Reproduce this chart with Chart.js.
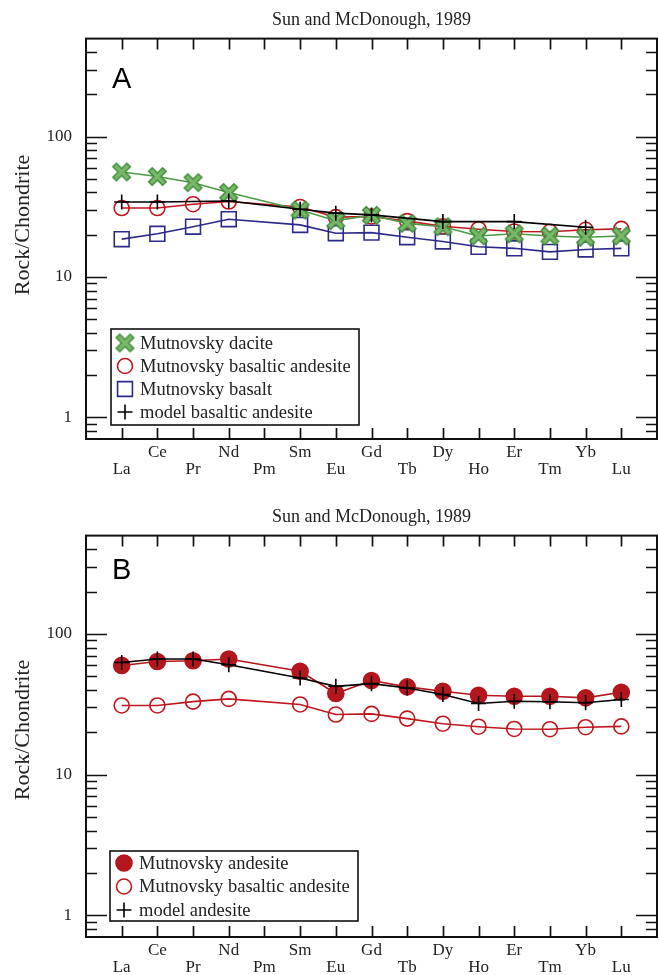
<!DOCTYPE html>
<html>
<head>
<meta charset="utf-8">
<title>Mutnovsky REE patterns</title>
<script src="https://cdn.jsdelivr.net/npm/chart.js@4.4.1/dist/chart.umd.min.js"></script>
<style>
  body { margin: 0; background: #fff; }
  .panel { position: absolute; left: 0; width: 659px; }
  #wrapA { top: 0; height: 497px; }
  #wrapB { top: 497px; height: 478px; }
</style>
</head>
<body>
<div class="panel" id="wrapA"><canvas id="chartA"></canvas></div>
<div class="panel" id="wrapB"><canvas id="chartB"></canvas></div>

<script>
// element order on the x axis (Pm has no data)
const elements = ['La', 'Ce', 'Pr', 'Nd', 'Pm', 'Sm', 'Eu', 'Gd', 'Tb', 'Dy', 'Ho', 'Er', 'Tm', 'Yb', 'Lu'];

// panel A values (rock / chondrite)
const dacite = [56, 52, 47, 40, null, 30, 25.2, 27.5, 24.1, 22.8, 19.6, 20.3, 19.6, 19.2, 19.6];
const basalticAndesite = [31, 31, 33, 34.5, null, 31.5, 26.7, 27, 25, 23, 21.9, 21.1, 21, 21.7, 22];
const basalt = [18.6, 20.3, 22.8, 25.8, null, 23.5, 20.5, 20.7, 19.2, 17.9, 16.4, 16.0, 15.1, 15.7, 16.0];
const modelBasalticAndesite = [34.2, 34.2, null, 34.8, null, 30.4, 28.5, 27.7, null, 24.8, null, 24.8, null, 22.6, null];

// panel B values
const andesite = [59.7, 63.7, 64.4, 66.3, null, 54.2, 37.7, 46.6, 42.0, 39.1, 36.6, 36.0, 36.0, 35.1, 38.5];
const modelAndesite = [62.7, 66.3, 66.3, 60.4, null, 48.6, 42.4, 44.3, 41.3, 37.1, 32.0, 33.2, 32.9, 32.4, 34.2];

// y tick marks (drawn inward), labelled ones
const yTicks = [0.8, 0.9, 1, 2, 3, 4, 5, 6, 7, 8, 9, 10, 20, 30, 40, 50, 60, 70, 80, 90, 100, 200, 300, 400];
const yLabels = [1, 10, 100];

const SERIF = '"Liberation Serif", "Times New Roman", serif';

function toPoints(arr) {
  return arr.map((v, i) => v == null ? null : { x: i, y: v }).filter(p => p);
}

// thick two-tone green X marker
function makeX(size) {
  const c = document.createElement('canvas');
  c.width = c.height = size;
  const g = c.getContext('2d');
  const draw = (a, b, w, col) => {
    g.strokeStyle = col; g.lineWidth = w; g.lineCap = 'butt';
    g.beginPath();
    g.moveTo(a, a); g.lineTo(b, b);
    g.moveTo(b, a); g.lineTo(a, b);
    g.stroke();
  };
  draw(3, size - 3, 6.5, '#3f8b3b');
  draw(4, size - 4, 3.6, '#78b868');
  return c;
}
const xMark = makeX(21);

function drawMarker(ctx, ds, x, y) {
  const st = ds.pointStyle, r = ds.pointRadius;
  ctx.save();
  ctx.lineWidth = ds.pointBorderWidth;
  ctx.strokeStyle = ds.pointBorderColor;
  ctx.fillStyle = ds.pointBackgroundColor;
  ctx.beginPath();
  if (st instanceof HTMLCanvasElement) {
    ctx.drawImage(st, x - st.width / 2, y - st.height / 2);
  } else if (st === 'circle') {
    ctx.arc(x, y, r, 0, Math.PI * 2);
    ctx.fill(); ctx.stroke();
  } else if (st === 'rect') {
    const s = r * Math.SQRT1_2;
    ctx.rect(x - s, y - s, 2 * s, 2 * s);
    ctx.fill(); ctx.stroke();
  } else if (st === 'cross') {
    ctx.moveTo(x - r, y); ctx.lineTo(x + r, y);
    ctx.moveTo(x, y - r); ctx.lineTo(x, y + r);
    ctx.stroke();
  }
  ctx.restore();
}

// frame, inward ticks, panel letter, y title and legend
const framePlugin = {
  id: 'frame',
  afterDraw(chart, args, o) {
    const { ctx, chartArea: a, scales: { x, y } } = chart;
    ctx.save();
    ctx.strokeStyle = '#111';
    ctx.lineWidth = 1.7;
    ctx.beginPath();
    elements.forEach((el, i) => {
      const px = Math.round(x.getPixelForValue(i)) + 0.5;
      ctx.moveTo(px, a.bottom); ctx.lineTo(px, a.bottom - 11);
      ctx.moveTo(px, a.top); ctx.lineTo(px, a.top + 11);
    });
    yTicks.forEach(v => {
      const py = Math.round(y.getPixelForValue(v)) + 0.5;
      const len = yLabels.includes(v) ? 21 : 11;
      ctx.moveTo(a.left, py); ctx.lineTo(a.left + len, py);
      ctx.moveTo(a.right, py); ctx.lineTo(a.right - len, py);
    });
    ctx.stroke();
    ctx.lineWidth = 2;
    ctx.strokeRect(a.left, a.top, a.width, a.height);

    // panel letter
    ctx.fillStyle = '#000';
    ctx.font = '29px "Liberation Sans", Arial, sans-serif';
    ctx.textBaseline = 'alphabetic';
    ctx.fillText(o.letter, 112, o.letterY);

    // y axis title
    ctx.save();
    ctx.translate(23, o.titleY);
    ctx.rotate(-Math.PI / 2);
    ctx.font = '22px ' + SERIF;
    ctx.fillStyle = '#222';
    ctx.textAlign = 'center';
    ctx.textBaseline = 'middle';
    ctx.fillText('Rock/Chondrite', 0, 0);
    ctx.restore();

    // legend
    const L = o.legend;
    ctx.fillStyle = '#fff';
    ctx.fillRect(L.x, L.y, L.w, L.h);
    ctx.lineWidth = 1.6;
    ctx.strokeStyle = '#111';
    ctx.strokeRect(L.x, L.y, L.w, L.h);
    ctx.font = '18.5px ' + SERIF;
    ctx.textBaseline = 'middle';
    ctx.textAlign = 'left';
    chart.data.datasets.forEach((ds, i) => {
      const cy = L.y + L.first + i * L.step;
      drawMarker(ctx, ds, L.x + 14, cy);
      ctx.fillStyle = '#222';
      ctx.fillText(ds.label, L.x + 29, cy + 1);
    });
    ctx.restore();
  }
};

function series(label, data, style, color, opts) {
  return Object.assign({
    label: label,
    data: toPoints(data),
    borderColor: color,
    borderWidth: 1.6,
    pointStyle: style,
    pointRadius: 7.5,
    pointBorderWidth: 1.6,
    pointBorderColor: color,
    pointBackgroundColor: 'rgba(0,0,0,0)',
    showLine: true,
    fill: false,
    tension: 0
  }, opts || {});
}

function makeOptions(axisHeight, extra) {
  return {
    responsive: true,
    maintainAspectRatio: false,
    animation: false,
    layout: { autoPadding: false, padding: { left: 0, right: 2, top: 0, bottom: 0 } },
    plugins: {
      legend: { display: false },
      tooltip: { enabled: false },
      title: {
        display: true,
        text: 'Sun and McDonough, 1989',
        fullSize: false,
        color: '#222',
        font: { family: SERIF, size: 18, weight: 'normal', lineHeight: 1.2 },
        padding: { top: 9, bottom: 8 }
      },
      frame: extra
    },
    scales: {
      x: {
        type: 'linear',
        min: -1,
        max: 15,
        grid: { display: false, drawTicks: false },
        border: { display: false },
        ticks: {
          stepSize: 1,
          autoSkip: false,
          maxRotation: 0,
          padding: 5,
          color: '#222',
          font: { family: SERIF, size: 17, lineHeight: 1 },
          callback: v => (v < 0 || v > 14) ? '' : (v % 2 === 0 ? ['', elements[v]] : [elements[v]])
        },
        afterFit: s => { s.height = axisHeight; s.paddingLeft = 0; s.paddingRight = 0; }
      },
      y: {
        type: 'logarithmic',
        min: 0.7,
        max: 500,
        grid: { display: false, drawTicks: false },
        border: { display: false },
        ticks: {
          autoSkip: false,
          padding: 14,
          color: '#222',
          font: { family: SERIF, size: 17 },
          callback: v => yLabels.includes(v) ? String(v) : ''
        },
        afterFit: s => { s.width = 86; s.paddingTop = 0; s.paddingBottom = 0; }
      }
    }
  };
}

new Chart(document.getElementById('chartA'), {
  type: 'scatter',
  data: {
    datasets: [
      series('Mutnovsky dacite', dacite, xMark, '#4d9a45', { order: 1 }),
      series('Mutnovsky basaltic andesite', basalticAndesite, 'circle', '#c0161e', { order: 2 }),
      series('Mutnovsky basalt', basalt, 'rect', '#2c2a88', { order: 3, pointRadius: 10.5 }),
      series('model basaltic andesite', modelBasalticAndesite, 'cross', '#000', { order: 0 })
    ]
  },
  options: makeOptions(58, {
    letter: 'A', letterY: 88, titleY: 225,
    legend: { x: 111, y: 329, w: 248, h: 96, first: 14, step: 23 }
  }),
  plugins: [framePlugin]
});

new Chart(document.getElementById('chartB'), {
  type: 'scatter',
  data: {
    datasets: [
      series('Mutnovsky andesite', andesite, 'circle', '#b3161c', { order: 1, pointRadius: 8, pointBackgroundColor: '#b3161c' }),
      series('Mutnovsky basaltic andesite', basalticAndesite, 'circle', '#c0161e', { order: 2 }),
      series('model andesite', modelAndesite, 'cross', '#000', { order: 0 })
    ]
  },
  options: makeOptions(38, {
    letter: 'B', letterY: 82, titleY: 233,
    legend: { x: 110, y: 354, w: 248, h: 70, first: 12, step: 23.5 }
  }),
  plugins: [framePlugin]
});
</script>
</body>
</html>
